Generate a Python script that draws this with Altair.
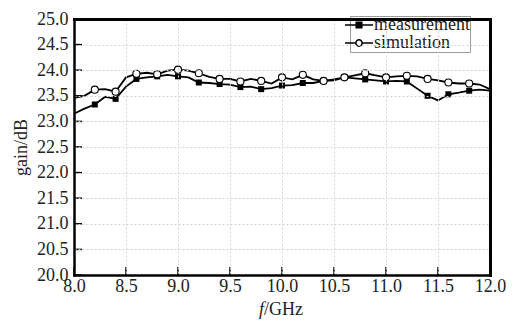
import altair as alt
import pandas as pd

freq = [8.0, 8.1, 8.2, 8.3, 8.4, 8.5, 8.6, 8.7, 8.8, 8.9,
        9.0, 9.1, 9.2, 9.3, 9.4, 9.5, 9.6, 9.7, 9.8, 9.9,
        10.0, 10.1, 10.2, 10.3, 10.4, 10.5, 10.6, 10.7, 10.8, 10.9,
        11.0, 11.1, 11.2, 11.3, 11.4, 11.5, 11.6, 11.7, 11.8, 11.9, 12.0]
measurement = [23.15, 23.25, 23.33, 23.48, 23.44, 23.68, 23.83, 23.86, 23.88, 23.91,
               23.88, 23.86, 23.76, 23.75, 23.73, 23.72, 23.67, 23.68, 23.63, 23.65,
               23.70, 23.71, 23.75, 23.75, 23.79, 23.80, 23.86, 23.84, 23.82, 23.80,
               23.78, 23.79, 23.78, 23.64, 23.50, 23.41, 23.53, 23.56, 23.60, 23.62, 23.60]
simulation = [23.46, 23.50, 23.62, 23.63, 23.58, 23.86, 23.93, 23.95, 23.92, 23.99,
              24.01, 23.99, 23.94, 23.87, 23.83, 23.83, 23.78, 23.83, 23.79, 23.74,
              23.86, 23.82, 23.91, 23.82, 23.79, 23.82, 23.86, 23.90, 23.94, 23.90,
              23.86, 23.88, 23.89, 23.88, 23.83, 23.80, 23.76, 23.74, 23.74, 23.72, 23.63]
marker_freq = [8.2, 8.4, 8.6, 8.8, 9.0, 9.2, 9.4, 9.6, 9.8, 10.0,
               10.2, 10.4, 10.6, 10.8, 11.0, 11.2, 11.4, 11.6, 11.8]
x_ticks = [8.0, 8.5, 9.0, 9.5, 10.0, 10.5, 11.0, 11.5, 12.0]
y_ticks = [20.0, 20.5, 21.0, 21.5, 22.0, 22.5, 23.0, 23.5, 24.0, 24.5, 25.0]
series_names = ["measurement", "simulation"]

W, H = 416, 256
FONT = "Liberation Serif"
INK = "#222222"
GRID = "#d4d4d4"

rows = []
for f, m, s in zip(freq, measurement, simulation):
    rows.append({"freq": f, "gain": m, "series": "measurement"})
    rows.append({"freq": f, "gain": s, "series": "simulation"})
df = pd.DataFrame(rows)
mk = df[df["freq"].isin(marker_freq)]
xt = pd.DataFrame({"v": x_ticks})
yt = pd.DataFrame({"v": y_ticks})

xs = alt.Scale(domain=[8.0, 12.0], nice=False, zero=False)
ys = alt.Scale(domain=[20.0, 25.0], nice=False, zero=False)

common_axis = dict(
    format=".1f", grid=True, gridColor=GRID, gridDash=[2, 2], gridWidth=1,
    ticks=False, domain=True, domainColor="black", domainWidth=2.5, domainCap="square",
    labelFont=FONT, labelFontSize=18, labelColor=INK, labelFlush=False, labelOverlap=False,
    zindex=2,
)

x_axis = alt.Axis(values=x_ticks, labelPadding=2, title=None, **common_axis)
y_axis = alt.Axis(values=y_ticks, labelPadding=6,
                  title="gain/dB", titleFont=FONT, titleFontSize=18, titleFontWeight="normal",
                  titleColor=INK, titlePadding=6, **common_axis)

lines = alt.Chart(df).mark_line(color="black", strokeWidth=1.8).encode(
    x=alt.X("freq:Q", scale=xs, axis=x_axis),
    y=alt.Y("gain:Q", scale=ys, axis=y_axis),
    detail="series:N",
)

sq = alt.Chart(mk).transform_filter(alt.datum.series == "measurement").mark_point(
    shape="square", size=36, filled=True, color="black", opacity=1
).encode(x=alt.X("freq:Q", scale=xs, axis=None), y=alt.Y("gain:Q", scale=ys, axis=None))

ci = alt.Chart(mk).transform_filter(alt.datum.series == "simulation").mark_point(
    shape="circle", size=50, fill="white", stroke="black", strokeWidth=1.1, opacity=1, filled=False
).encode(x=alt.X("freq:Q", scale=xs, axis=None), y=alt.Y("gain:Q", scale=ys, axis=None))

sq_path = "M-2,0H2M-0.4,-0.4H0.4V0.4H-0.4Z"
ci_path = "M-2,0H-0.45M0.45,0H2M-0.45,0A0.45,0.45 0 1,0 0.45,0A0.45,0.45 0 1,0 -0.45,0Z"

legend = alt.Legend(
    title=None, orient="none", legendX=276, legendY=-3,
    labelFont=FONT, labelFontSize=18, labelColor=INK, labelOffset=6,
    symbolSize=196, symbolStrokeWidth=1.5, symbolStrokeColor="black",
    fillColor="white", strokeColor="#999999", padding=0, rowPadding=-2, zindex=1,
)

leg = alt.Chart(df).transform_filter("false").mark_point(strokeWidth=1.5, opacity=1).encode(
    x=alt.X("freq:Q", scale=xs, axis=None),
    y=alt.Y("gain:Q", scale=ys, axis=None),
    shape=alt.Shape("series:N", scale=alt.Scale(domain=series_names, range=[sq_path, ci_path]), legend=legend),
    fill=alt.Fill("series:N", scale=alt.Scale(domain=series_names, range=["black", "white"]), legend=legend),
    stroke=alt.Stroke("series:N", scale=alt.Scale(domain=series_names, range=["black", "black"]), legend=legend),
)

frame_axis = dict(domain=True, domainColor="black", domainWidth=3, domainCap="square",
                  ticks=False, labels=False, grid=False, title=None, zindex=2)

xtick = alt.Chart(xt).mark_rule(color="black", strokeWidth=1.5).encode(
    x=alt.X("v:Q", scale=xs, axis=alt.Axis(orient="top", **frame_axis)),
    y=alt.value(H), y2=alt.value(H - 8),
)
ytick = alt.Chart(yt).mark_rule(color="black", strokeWidth=1.5).encode(
    y=alt.Y("v:Q", scale=ys, axis=alt.Axis(orient="right", **frame_axis)),
    x=alt.value(0), x2=alt.value(8),
)

t_f = alt.Chart(alt.Data(values=[{"t": "f"}])).mark_text(
    font=FONT, fontSize=18, fontStyle="italic", align="right", baseline="alphabetic", color=INK
).encode(x=alt.value(190), y=alt.value(296), text="t:N")
t_u = alt.Chart(alt.Data(values=[{"t": "/GHz"}])).mark_text(
    font=FONT, fontSize=18, align="left", baseline="alphabetic", color=INK
).encode(x=alt.value(190), y=alt.value(296), text="t:N")

chart = alt.layer(lines, sq, ci, leg, xtick, ytick, t_f, t_u).resolve_axis(
    x="independent", y="independent"
).properties(
    width=W, height=H,
    padding={"left": 66, "top": 11, "right": 16, "bottom": 46},
    autosize=alt.AutoSizeParams(type="none"),
    background="white",
).configure_view(stroke=None)

chart.save("out.html", embed_options={"renderer": "svg", "actions": False})
